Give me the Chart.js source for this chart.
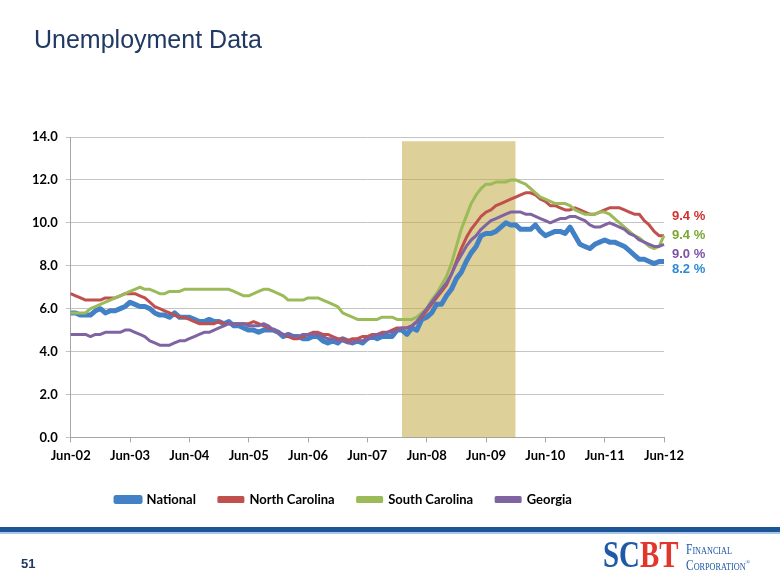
<!DOCTYPE html>
<html>
<head>
<meta charset="utf-8">
<script src="https://cdn.jsdelivr.net/npm/chart.js@4.4.1/dist/chart.umd.min.js"></script>
<style>
  html, body { margin: 0; padding: 0; background: #fff; }
  #page { position: relative; width: 780px; height: 585px; overflow: hidden; font-family: "Liberation Sans", Arial, sans-serif; }
  #chartBox { position: absolute; left: 0; top: 0; width: 780px; height: 585px; }
  .title { position: absolute; left: 34px; top: 27px; font-size: 25px; line-height: 25px; color: #1f3864; white-space: nowrap; }
  .rule { position: absolute; left: 0; top: 527px; width: 780px; height: 5px; background: #1d5697; }
  .rule2 { position: absolute; left: 0; top: 532px; width: 780px; height: 2px; background: #a9c6e8; }
  .pageno { position: absolute; left: 21px; top: 556px; font-size: 13px; font-weight: bold; color: #1f3864; }
  .logo { position: absolute; left: 603px; top: 535px; height: 38px; font-family: "Liberation Serif", serif; font-weight: bold; font-size: 38px; line-height: 38px; transform: scaleX(0.76); transform-origin: left top; white-space: nowrap; }
  .logo .b { color: #1f5aa8; }
  .logo .r { color: #e2352b; }
  .corp { position: absolute; left: 686px; font-family: "Liberation Serif", serif; color: #1f5aa8; font-variant: small-caps; white-space: nowrap; transform: scaleX(0.82); transform-origin: left top; }
</style>
</head>
<body>
<div id="page">
  <div id="chartBox"><canvas id="unempChart"></canvas></div>
  <div class="title">Unemployment Data</div>
  <div class="rule"></div>
  <div class="rule2"></div>
  <div class="pageno">51</div>
  <div class="logo"><span class="b">SC</span><span class="r">BT</span></div>
  <div class="corp" style="top:543px;font-size:14px;line-height:14px;">Financial</div>
  <div class="corp" style="top:555px;font-size:14px;line-height:14px;">Corporation<sup style="font-size:7px">®</sup></div>
</div>
<script>
// monthly, Jun-02 .. Jun-12
const monthNames = ["Jan", "Feb", "Mar", "Apr", "May", "Jun", "Jul", "Aug", "Sep", "Oct", "Nov", "Dec"];
const firstYear = 2002, firstMonth = 5, monthCount = 121;
const labels = [];
for (let i = 0; i < monthCount; i++) {
  const m = (firstMonth + i) % 12;
  const y = firstYear + Math.floor((firstMonth + i) / 12);
  labels.push(monthNames[m] + "-" + String(y).slice(2));
}

const seriesNames = ["National", "North Carolina", "South Carolina", "Georgia"];

const national = [
  5.8, 5.8, 5.7, 5.7, 5.7, 5.9, 6.0,
  5.8, 5.9, 5.9, 6.0, 6.1, 6.3, 6.2, 6.1, 6.1, 6.0, 5.8, 5.7,
  5.7, 5.6, 5.8, 5.6, 5.6, 5.6, 5.5, 5.4, 5.4, 5.5, 5.4, 5.4,
  5.3, 5.4, 5.2, 5.2, 5.1, 5.0, 5.0, 4.9, 5.0, 5.0, 5.0, 4.9,
  4.7, 4.8, 4.7, 4.7, 4.6, 4.6, 4.7, 4.7, 4.5, 4.4, 4.5, 4.4,
  4.6, 4.5, 4.4, 4.5, 4.4, 4.6, 4.7, 4.6, 4.7, 4.7, 4.7, 5.0,
  5.0, 4.8, 5.1, 5.0, 5.5, 5.6, 5.8, 6.2, 6.2, 6.6, 6.9, 7.4,
  7.7, 8.2, 8.6, 8.9, 9.4, 9.5, 9.5, 9.6, 9.8, 10.0, 9.9, 9.9,
  9.7, 9.7, 9.7, 9.9, 9.6, 9.4, 9.5, 9.6, 9.6, 9.5, 9.8, 9.4,
  9.0, 8.9, 8.8, 9.0, 9.1, 9.2, 9.1, 9.1, 9.0, 8.9, 8.7, 8.5,
  8.3, 8.3, 8.2, 8.1, 8.2, 8.2
];
const northCarolina = [
  6.7, 6.6, 6.5, 6.4, 6.4, 6.4, 6.4,
  6.5, 6.5, 6.5, 6.6, 6.7, 6.7, 6.7, 6.6, 6.5, 6.3, 6.1, 6.0,
  5.9, 5.8, 5.7, 5.6, 5.6, 5.5, 5.4, 5.3, 5.3, 5.3, 5.3, 5.4,
  5.3, 5.3, 5.3, 5.3, 5.3, 5.3, 5.4, 5.3, 5.2, 5.1, 5.0, 4.9,
  4.8, 4.7, 4.6, 4.6, 4.7, 4.8, 4.9, 4.9, 4.8, 4.8, 4.7, 4.6,
  4.6, 4.5, 4.6, 4.6, 4.7, 4.7, 4.8, 4.8, 4.9, 4.9, 5.0, 5.1,
  5.1, 5.1, 5.2, 5.4, 5.6, 5.9, 6.2, 6.5, 6.8, 7.1, 7.6, 8.2,
  8.8, 9.3, 9.7, 10.0, 10.3, 10.5, 10.6, 10.8, 10.9, 11.0, 11.1, 11.2,
  11.3, 11.4, 11.4, 11.3, 11.1, 11.0, 10.8, 10.8, 10.7, 10.6, 10.6, 10.7,
  10.6, 10.5, 10.4, 10.4, 10.5, 10.6, 10.7, 10.7, 10.7, 10.6, 10.5, 10.4,
  10.4, 10.1, 9.9, 9.6, 9.4, 9.4
];
const southCarolina = [
  5.8, 5.8, 5.8, 5.8, 6.0, 6.1, 6.2,
  6.3, 6.4, 6.5, 6.6, 6.7, 6.8, 6.9, 7.0, 6.9, 6.9, 6.8, 6.7,
  6.7, 6.8, 6.8, 6.8, 6.9, 6.9, 6.9, 6.9, 6.9, 6.9, 6.9, 6.9,
  6.9, 6.9, 6.8, 6.7, 6.6, 6.6, 6.7, 6.8, 6.9, 6.9, 6.8, 6.7,
  6.6, 6.4, 6.4, 6.4, 6.4, 6.5, 6.5, 6.5, 6.4, 6.3, 6.2, 6.1,
  5.8, 5.7, 5.6, 5.5, 5.5, 5.5, 5.5, 5.5, 5.6, 5.6, 5.6, 5.5,
  5.5, 5.5, 5.5, 5.6, 5.8, 6.0, 6.4, 6.7, 7.1, 7.5, 8.1, 8.9,
  9.7, 10.3, 10.9, 11.3, 11.6, 11.8, 11.8, 11.9, 11.9, 11.9, 12.0, 12.0,
  11.9, 11.8, 11.6, 11.4, 11.2, 11.1, 11.0, 10.9, 10.9, 10.9, 10.8, 10.6,
  10.5, 10.4, 10.4, 10.4, 10.5, 10.5, 10.4, 10.2, 10.0, 9.8, 9.6, 9.4,
  9.3, 9.1, 8.9, 8.8, 8.9, 9.4
];
const georgia = [
  4.8, 4.8, 4.8, 4.8, 4.7, 4.8, 4.8,
  4.9, 4.9, 4.9, 4.9, 5.0, 5.0, 4.9, 4.8, 4.7, 4.5, 4.4, 4.3,
  4.3, 4.3, 4.4, 4.5, 4.5, 4.6, 4.7, 4.8, 4.9, 4.9, 5.0, 5.1,
  5.2, 5.3, 5.3, 5.3, 5.3, 5.2, 5.2, 5.2, 5.3, 5.2, 5.0, 4.9,
  4.8, 4.8, 4.7, 4.7, 4.8, 4.8, 4.8, 4.8, 4.7, 4.6, 4.6, 4.5,
  4.5, 4.4, 4.4, 4.5, 4.5, 4.6, 4.7, 4.8, 4.8, 4.9, 4.9, 5.0,
  5.1, 5.1, 5.2, 5.4, 5.7, 6.0, 6.3, 6.6, 6.9, 7.2, 7.6, 8.1,
  8.5, 8.9, 9.2, 9.4, 9.7, 9.9, 10.1, 10.2, 10.3, 10.4, 10.5, 10.5,
  10.5, 10.4, 10.4, 10.3, 10.2, 10.1, 10.0, 10.1, 10.2, 10.2, 10.3, 10.3,
  10.2, 10.1, 9.9, 9.8, 9.8, 9.9, 10.0, 9.9, 9.8, 9.7, 9.5, 9.4,
  9.2, 9.1, 9.0, 8.9, 8.9, 9.0
];

// shaded recession band
const bandStart = "Jan-08", bandEnd = "Dec-09", bandLevel = 13.8;

const yTicks = [0, 2, 4, 6, 8, 10, 12, 14];

const lineColors = ["#4381c6", "#c0504d", "#9bbb59", "#8064a2"];
const labelColors = ["#2b8ad6", "#d0312d", "#78a830", "#7d4fa6"];
const seriesData = [national, northCarolina, southCarolina, georgia];

const i0 = labels.indexOf(bandStart), i1 = labels.indexOf(bandEnd);
const bandData = labels.map((l, i) => (i >= i0 && i <= i1 ? bandLevel : null));

const datasets = seriesData.map((d, i) => ({
  label: seriesNames[i],
  data: d,
  borderColor: lineColors[i],
  backgroundColor: lineColors[i],
  borderWidth: i === 0 ? 5 : 3,
  pointRadius: 0,
  tension: 0,
  fill: false,
  borderJoinStyle: "round",
  order: 4 - i
}));
datasets.push({
  label: "band",
  data: bandData,
  borderWidth: 0,
  borderColor: "rgba(0,0,0,0)",
  backgroundColor: "rgba(193,170,68,0.55)",
  pointRadius: 0,
  fill: "origin",
  spanGaps: false,
  order: 10
});

// value labels at the right end of each line
const endLabels = {
  id: "endLabels",
  afterDatasetsDraw(chart) {
    const ctx = chart.ctx;
    const nudge = [8, -19, 0, 10];
    ctx.save();
    ctx.font = 'bold 13px "Liberation Sans", Arial, sans-serif';
    ctx.textBaseline = "middle";
    ctx.textAlign = "left";
    seriesData.forEach((d, i) => {
      const meta = chart.getDatasetMeta(i);
      const pt = meta.data[meta.data.length - 1];
      ctx.fillStyle = labelColors[i];
      ctx.fillText(d[d.length - 1].toFixed(1) + " %", chart.chartArea.right + 8, pt.y + nudge[i]);
    });
    ctx.restore();
  }
};

const tickFont = { family: "Lato, 'Liberation Sans', sans-serif", size: 13, weight: "bold" };

new Chart(document.getElementById("unempChart"), {
  type: "line",
  data: { labels: labels, datasets: datasets },
  plugins: [endLabels],
  options: {
    responsive: true,
    maintainAspectRatio: false,
    animation: false,
    layout: { padding: { top: 137, left: 24, right: 116, bottom: 69 } },
    plugins: {
      legend: {
        position: "bottom",
        labels: {
          filter: (item) => item.datasetIndex < 4,
          sort: (a, b) => a.datasetIndex - b.datasetIndex,
          boxWidth: 24,
          boxHeight: 4,
          padding: 23,
          color: "#000",
          font: tickFont
        }
      },
      tooltip: { enabled: false }
    },
    scales: {
      x: {
        offset: false,
        grid: {
          drawOnChartArea: false,
          tickLength: 5,
          color: (c) => (c.index % 12 === 0 ? "#a6a6a6" : "rgba(0,0,0,0)")
        },
        border: { color: "#a6a6a6" },
        ticks: {
          autoSkip: false,
          maxRotation: 0,
          minRotation: 0,
          padding: 6,
          color: "#000",
          font: tickFont,
          callback: (v, i) => (i % 12 === 0 ? labels[i] : "")
        }
      },
      y: {
        min: 0,
        max: 14,
        afterBuildTicks: (axis) => { axis.ticks = yTicks.map((v) => ({ value: v })); },
        grid: { color: "#c4c4c4", tickLength: 5 },
        border: { color: "#a6a6a6" },
        ticks: {
          padding: 8,
          color: "#000",
          font: tickFont,
          callback: (v) => v.toFixed(1)
        }
      }
    }
  }
});
</script>
</body>
</html>
